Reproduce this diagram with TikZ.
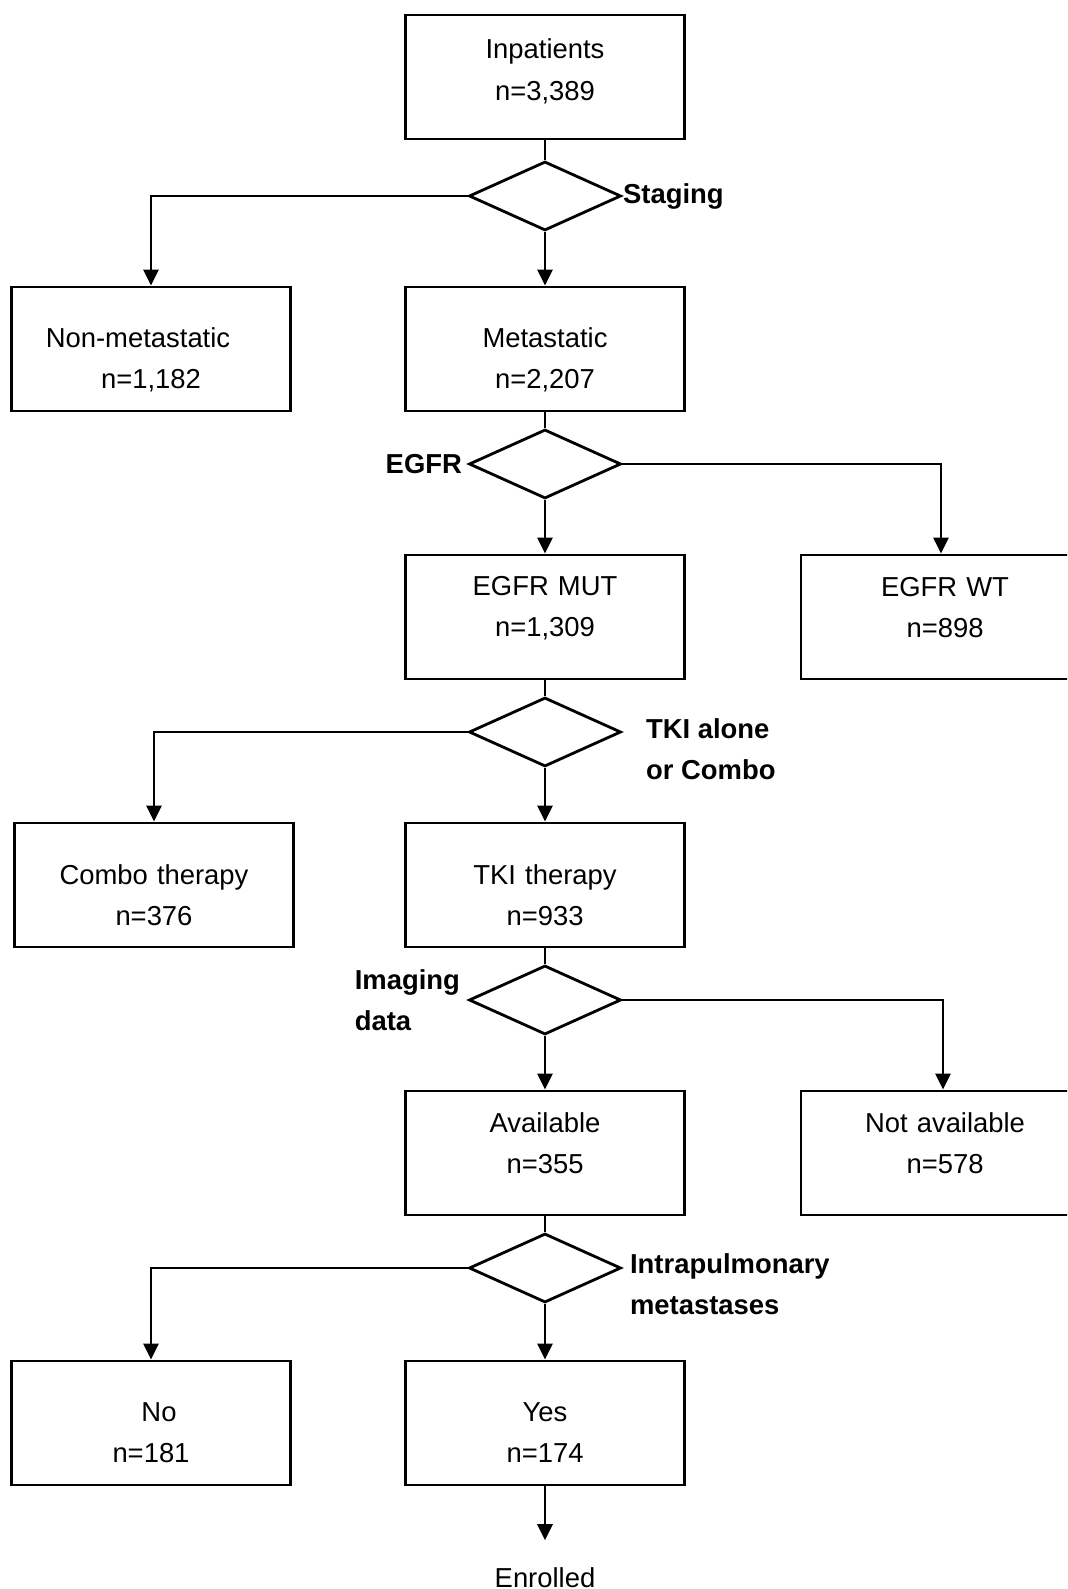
\documentclass[tikz,border=0pt]{standalone}
\usepackage{fontspec}
\setmainfont{Liberation Sans}
\usepackage{xcolor}
\usetikzlibrary{positioning,shapes.geometric,arrows.meta}

\begin{document}
\begin{tikzpicture}[node distance=1.53cm, auto, >={Triangle[width=1.5mm,length=1.6mm]}]
    \tikzstyle{block} = [rectangle, draw, line width=0.8pt, fill=white, text width=2.72cm, text centered, minimum width=2.79cm, minimum height=1.24cm, inner sep=0pt, font=\fontsize{7.8}{11.7}\selectfont]
    \tikzstyle{wideblock} = [block, text width=2.8cm, minimum width=2.88cm]
    \tikzstyle{textup} = [execute at end node={\rule[-#1]{0pt}{#1}}]
    \tikzstyle{textdown} = [execute at begin node={\rule{0pt}{#1}}]
    \tikzstyle{decide} = [diamond, draw, line width=0.8pt, aspect=2.2, minimum width=1.52cm, minimum height=0.69cm, inner sep=0pt]
    \tikzstyle{question} = [inner sep=0pt, align=left, font=\fontsize{7.8}{11.7}\selectfont\bfseries]
    \tikzstyle{line} = [draw, line width=0.8pt, ->]

    \clip (0,0) rectangle (10.67,-15.89);

    \node[block, textup=4.2pt] (inpat) at (5.45,-0.77) {Inpatients\\ n=3,389};
    \node[decide, below of=inpat, yshift=0.34cm] (stagq) {};
    \node[block, textdown=12pt] (metast) [below of=stagq] {Metastatic\\ n=2,207};
    \node[block, textdown=12pt, left of=metast, xshift=-2.41cm] (nonmet) {\hspace*{-0.26cm}Non-metastatic\\ n=1,182};
    \node[decide, below of=metast, yshift=0.38cm] (egfrq) {};
    \node[block, textup=6pt, below of=egfrq] (mut) {EGFR MUT\\ n=1,309};
    \node[wideblock, textup=5.4pt, right of=mut, xshift=2.47cm] (wt) {EGFR WT\\ n=898};
    \node[decide, below of=mut, yshift=0.38cm] (tkiq) {};
    \node[block, textdown=11.5pt, below of=tkiq] (tki) {TKI therapy\\ n=933};
    \node[block, textdown=11.5pt, left of=tki, xshift=-2.38cm] (combo) {Combo therapy\\ n=376};
    \node[decide, below of=tki, yshift=0.38cm] (imgq) {};
    \node[block, textup=5.6pt, below of=imgq] (avail) {Available\\ n=355};
    \node[wideblock, textup=5.6pt, right of=avail, xshift=2.47cm] (notavail) {Not available\\ n=578};
    \node[decide, below of=avail, yshift=0.38cm] (intraq) {};
    \node[block, textdown=11pt, below of=intraq, yshift=-0.02cm] (yes) {Yes\\ n=174};
    \node[block, textdown=11pt, left of=yes, xshift=-2.41cm] (no) {\hspace*{0.16cm}No\\ n=181};
    \node[below of=yes, yshift=-0.02cm, inner sep=0pt, font=\fontsize{7.8}{11.7}\selectfont] (enrolled) {Enrolled};

    % decision labels
    \node[question, anchor=west] (stagl) at (stagq.east) {Staging};
    \node[question, anchor=east, xshift=-0.05cm] (egfrl) at (egfrq.west) {EGFR};
    \node[question, anchor=west, xshift=0.23cm, yshift=-0.175cm] (tkil) at (tkiq.east) {TKI alone\\or Combo};
    \node[question, anchor=east, xshift=-0.07cm] (imgl) at (imgq.west) {Imaging\\data};
    \node[question, anchor=west, xshift=0.07cm, yshift=-0.165cm] (intral) at (intraq.east) {Intrapulmonary\\metastases};

    \draw[line width=0.8pt] (inpat) -- (stagq);
    \draw[line] (stagq) -- (metast);
    \draw[line] (stagq.west) -| (nonmet.north);
    \draw[line width=0.8pt] (metast) -- (egfrq);
    \draw[line] (egfrq) -- (mut);
    \draw[line] (egfrq.east) -| ([xshift=-0.04cm]wt.north);
    \draw[line width=0.8pt] (mut) -- (tkiq);
    \draw[line] (tkiq) -- (tki);
    \draw[line] (tkiq.west) -| (combo.north);
    \draw[line width=0.8pt] (tki) -- (imgq);
    \draw[line] (imgq) -- (avail);
    \draw[line] (imgq.east) -| ([xshift=-0.02cm]notavail.north);
    \draw[line width=0.8pt] (avail) -- (intraq);
    \draw[line] (intraq) -- (yes);
    \draw[line] (intraq.west) -| (no.north);
    \draw[line, shorten >=0.27cm] (yes) -- (enrolled);

\end{tikzpicture}
\end{document}
